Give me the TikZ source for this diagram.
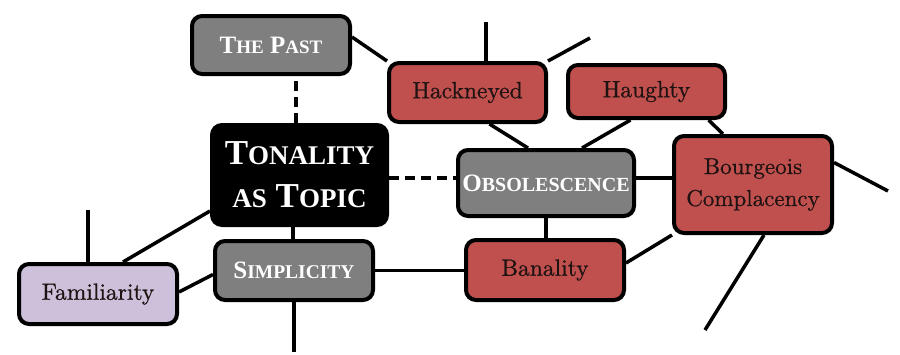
\documentclass[tikz,border=0pt]{standalone}
\usepackage{fontspec}
\newfontfamily\rfont{Liberation Serif}
\newfontfamily\gfont{lmroman10-regular.otf}[FakeBold=0.7]
\pgfdeclarelayer{background}
\pgfsetlayers{background,main}
\definecolor{boxgray}{HTML}{7F7F7F}
\definecolor{boxred}{HTML}{C0504D}
\definecolor{boxlav}{HTML}{CCC0DA}
\definecolor{txtdark}{HTML}{1E1212}
\tikzset{
  box/.style={draw=black, line width=4pt, rounded corners=10pt, rectangle, inner sep=0pt, align=center},
  graybox/.style={box, fill=boxgray, text=white},
  redbox/.style={box, fill=boxred, text=txtdark, font=\gfont\fontsize{23.5}{28}\selectfont},
  lavbox/.style={box, fill=boxlav, text=txtdark, font=\gfont\fontsize{23.5}{28}\selectfont},
  blackbox/.style={box, fill=black, text=white},
  link/.style={line width=3.5pt, line cap=butt},
  dlink/.style={line width=4pt, dash pattern=on 10pt off 6pt}
}
\newcommand{\SC}[2]{{\fontsize{#1}{#1}\selectfont#2}}
\begin{document}
\begin{tikzpicture}[x=1pt,y=-1pt]
\useasboundingbox (0,0) rectangle (900,354);
% nodes
\node[graybox, minimum width=158pt, minimum height=58pt, font=\rfont\bfseries\fontsize{25}{28}\selectfont] (past) at (271,45) {T\SC{19}{HE} P\SC{19}{AST}};
\node[redbox, minimum width=157pt, minimum height=59pt] (hack) at (467.5,92.5) {Hackneyed};
\node[redbox, minimum width=157pt, minimum height=53pt] (haughty) at (646.5,91.5) {Haughty};
\node[blackbox, minimum width=175pt, minimum height=100pt, font=\rfont\bfseries\fontsize{35}{40}\selectfont] (tonal) at (299.5,175) {T\SC{27}{ONALITY}\\[3pt]\SC{27}{AS} T\SC{27}{OPIC}};
\node[graybox, minimum width=176pt, minimum height=66pt, font=\rfont\bfseries\fontsize{25}{28}\selectfont] (obs) at (546,183) {O\SC{20}{BSOLESCENCE}};
\node[redbox, minimum width=158pt, minimum height=97pt, font=\gfont\fontsize{23}{32}\selectfont] (bourg) at (753,184.5) {Bourgeois\\Complacency};
\node[redbox, minimum width=158pt, minimum height=60pt] (ban) at (545,270) {Banality};
\node[graybox, minimum width=158pt, minimum height=59pt, font=\rfont\bfseries\fontsize{25}{28}\selectfont] (simp) at (294,270.5) {S\SC{19.5}{IMPLICITY}};
\node[lavbox, minimum width=158pt, minimum height=60pt] (fam) at (98,294) {Familiarity};
% free ends
\coordinate (h1) at (486,22);
\coordinate (h2) at (590,38);
\coordinate (b1) at (888,191);
\coordinate (b2) at (705,330);
\coordinate (s1) at (294,352);
\coordinate (f1) at (88,210);
% connectors
\begin{pgfonlayer}{background}
\draw[link] ([yshift=8pt]past.east) -- (hack.north west);
\draw[link] (h1) -- (h1 |- hack.north);
\draw[link] (hack.north east) -- (h2);
\draw[dlink] (tonal.north -| 296,0) -- (past.south -| 296,0);
\draw[link] ([xshift=22pt]hack.south) -- ([xshift=-18pt]obs.north);
\draw[link] ([xshift=-16pt]haughty.south) -- ([xshift=36pt]obs.north);
\draw[link] ([xshift=62pt]haughty.south) -- ([xshift=-30pt]bourg.north);
\draw[dlink] ([yshift=-3pt]tonal.east) -- ([yshift=-3pt]tonal.east -| obs.west);
\draw[link] ([yshift=5pt]obs.east) -- ([yshift=5pt]obs.east -| bourg.west);
\draw[link] (obs.south) -- (obs.south |- ban.north);
\draw[link] ([yshift=7pt]ban.east) -- (bourg.south west);
\draw[link] ([yshift=22pt]bourg.east) -- (b1);
\draw[link] ([xshift=11pt]bourg.south) -- (b2);
\draw[link] (simp.east) -- (simp.east -| ban.west);
\draw[link] ([xshift=-1pt]simp.north) -- ([xshift=-1pt]simp.north |- tonal.south);
\draw[link] (simp.south) -- (s1);
\draw[link] ([xshift=25pt]fam.north) -- ([yshift=16pt]tonal.south west);
\draw[link] (f1) -- (f1 |- fam.north);
\draw[link] ([yshift=2pt]fam.east) -- ([yshift=-4pt]simp.west);
\end{pgfonlayer}
\end{tikzpicture}
\end{document}
